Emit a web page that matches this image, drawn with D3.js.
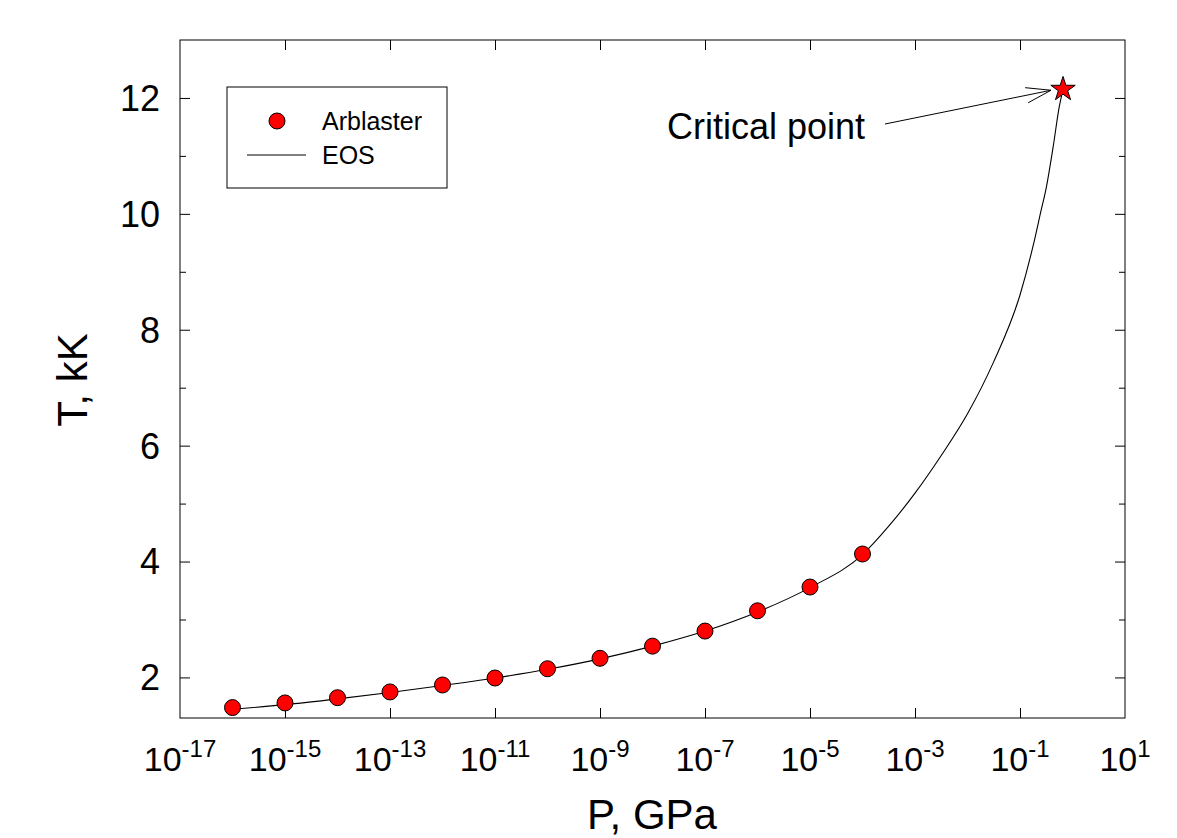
<!DOCTYPE html>
<html>
<head>
<meta charset="utf-8">
<script src="https://cdn.jsdelivr.net/npm/d3@7"></script>
<style>
  body { margin: 0; background: #fff; }
  text { font-family: Arial, "Liberation Sans", sans-serif; fill: #000; }
</style>
</head>
<body>
<div id="chart"></div>
<script>
// Arblaster data (P in GPa, T in kK)
var arbP = [1e-16, 1e-15, 1e-14, 1e-13, 1e-12, 1e-11, 1e-10, 1e-9, 1e-8, 1e-7, 1e-6, 1e-5, 1e-4];
var arbT = [1.48, 1.56, 1.65, 1.75, 1.87, 1.99, 2.15, 2.33, 2.54, 2.80, 3.15, 3.56, 4.13];

// EOS curve
var eosP = [1e-16, 1e-15, 1e-14, 1e-13, 1e-12, 1e-11, 1e-10, 1e-9, 1e-8, 1e-7, 1e-6, 1e-5, 1e-4,
            3.16e-4, 1e-3, 3.16e-3, 1e-2, 3.16e-2, 1e-1, 0.178, 0.251, 0.316, 0.427, 0.56, 0.66];
var eosT = [1.45, 1.53, 1.63, 1.74, 1.86, 1.99, 2.14, 2.32, 2.54, 2.80, 3.13, 3.55, 4.12,
            4.61, 5.18, 5.83, 6.55, 7.45, 8.60, 9.45, 10.05, 10.45, 11.15, 11.85, 12.15];

// critical point
var critP = [0.66];
var critT = [12.15];

var xTickExp = [-17, -15, -13, -11, -9, -7, -5, -3, -1, 1];
var yTicks = [2, 4, 6, 8, 10, 12];
var yMinor = [3, 5, 7, 9, 11];

var width = 1177, height = 838;
var margin = {top: 40, right: 52, bottom: 120, left: 180};
var w = width - margin.left - margin.right,
    h = height - margin.top - margin.bottom;

var svg = d3.select("#chart").append("svg")
    .attr("width", width)
    .attr("height", height);

var g = svg.append("g")
    .attr("transform", "translate(" + margin.left + "," + margin.top + ")");

var x = d3.scaleLog().domain([1e-17, 1e1]).range([0, w]);
var y = d3.scaleLinear().domain([1.3, 13]).range([h, 0]);

var xTickVals = xTickExp.map(function(e) { return Math.pow(10, e); });

// axes, ticks pointing inwards
function styleAxis(sel) {
  sel.select(".domain").remove();
  sel.selectAll(".tick line").attr("stroke", "#000").attr("stroke-width", 1);
}

g.append("g")
  .attr("transform", "translate(0," + h + ")")
  .call(d3.axisBottom(x).tickValues(xTickVals.slice(1, -1)).tickSize(-10).tickFormat(""))
  .call(styleAxis);
g.append("g")
  .call(d3.axisTop(x).tickValues(xTickVals.slice(1, -1)).tickSize(-10).tickFormat(""))
  .call(styleAxis);

g.append("g")
  .call(d3.axisLeft(y).tickValues(yTicks).tickSize(-10).tickFormat(""))
  .call(styleAxis);
g.append("g")
  .call(d3.axisLeft(y).tickValues(yMinor).tickSize(-6).tickFormat(""))
  .call(styleAxis);
g.append("g")
  .attr("transform", "translate(" + w + ",0)")
  .call(d3.axisRight(y).tickValues(yTicks).tickSize(-10).tickFormat(""))
  .call(styleAxis);
g.append("g")
  .attr("transform", "translate(" + w + ",0)")
  .call(d3.axisRight(y).tickValues(yMinor).tickSize(-6).tickFormat(""))
  .call(styleAxis);

// frame
g.append("rect")
  .attr("width", w).attr("height", h)
  .attr("fill", "none").attr("stroke", "#000").attr("stroke-width", 1);

// y tick labels
g.selectAll(".ylab").data(yTicks).enter().append("text")
  .attr("x", -20)
  .attr("y", function(d) { return y(d); })
  .attr("dy", "0.36em")
  .attr("text-anchor", "end")
  .style("font-size", "36px")
  .text(function(d) { return d; });

// x tick labels, 10 with superscript exponent
var xl = g.selectAll(".xlab").data(xTickExp).enter().append("text")
  .attr("x", function(d) { return x(Math.pow(10, d)); })
  .attr("y", h + 53)
  .attr("text-anchor", "middle")
  .style("font-size", "34px");
xl.append("tspan").text("10");
xl.append("tspan")
  .attr("dy", -14)
  .style("font-size", "24px")
  .text(function(d) { return d < 0 ? "-" + (-d) : d; });

// axis titles
svg.append("text")
  .attr("transform", "translate(" + 87 + "," + 380 + ") rotate(-90)")
  .attr("text-anchor", "middle")
  .style("font-size", "42px")
  .text("T, kK");
svg.append("text")
  .attr("x", 652)
  .attr("y", 829)
  .attr("text-anchor", "middle")
  .style("font-size", "42px")
  .text("P, GPa");

// EOS line
var eos = eosP.map(function(p, i) { return [p, eosT[i]]; });
g.append("path")
  .datum(eos)
  .attr("fill", "none")
  .attr("stroke", "#000")
  .attr("stroke-width", 1.1)
  .attr("d", d3.line()
    .curve(d3.curveMonotoneX)
    .x(function(d) { return x(d[0]); })
    .y(function(d) { return y(d[1]); }));

// Arblaster points
g.selectAll(".pt").data(arbP).enter().append("circle")
  .attr("cx", function(d) { return x(d); })
  .attr("cy", function(d, i) { return y(arbT[i]); })
  .attr("r", 8)
  .attr("fill", "#ff0000")
  .attr("stroke", "#000")
  .attr("stroke-width", 1);

// critical point star
g.selectAll(".star").data(critP).enter().append("path")
  .attr("d", d3.symbol().type(d3.symbolStar).size(185))
  .attr("transform", function(d, i) { return "translate(" + x(d) + "," + y(critT[i]) + ")"; })
  .attr("fill", "#ff0000")
  .attr("stroke", "#000")
  .attr("stroke-width", 1);

// annotation with open arrow
var cx = x(critP[0]), cy = y(critT[0]);
var ax0 = 885 - margin.left, ay0 = 124 - margin.top;
var ax1 = cx - 12, ay1 = cy + 1;
var ang = Math.atan2(ay1 - ay0, ax1 - ax0);
var hl = 26, ha = 0.3;
g.append("path")
  .attr("fill", "none")
  .attr("stroke", "#000")
  .attr("stroke-width", 1)
  .attr("d", "M" + ax0 + "," + ay0 + "L" + ax1 + "," + ay1 +
    "M" + (ax1 - hl * Math.cos(ang - ha)) + "," + (ay1 - hl * Math.sin(ang - ha)) +
    "L" + ax1 + "," + ay1 +
    "L" + (ax1 - hl * Math.cos(ang + ha)) + "," + (ay1 - hl * Math.sin(ang + ha)));
svg.append("text")
  .attr("x", 667)
  .attr("y", 139)
  .style("font-size", "36px")
  .text("Critical point");

// legend
var lg = svg.append("g").attr("transform", "translate(227,87)");
lg.append("rect")
  .attr("width", 220).attr("height", 101)
  .attr("fill", "#fff").attr("stroke", "#000").attr("stroke-width", 1);
lg.append("circle")
  .attr("cx", 50).attr("cy", 34).attr("r", 8)
  .attr("fill", "#ff0000").attr("stroke", "#000");
lg.append("text").attr("x", 95).attr("y", 43).style("font-size", "25px").text("Arblaster");
lg.append("line")
  .attr("x1", 20).attr("x2", 79).attr("y1", 68).attr("y2", 68)
  .attr("stroke", "#000").attr("stroke-width", 1);
lg.append("text").attr("x", 95).attr("y", 77).style("font-size", "25px").text("EOS");
</script>
</body>
</html>
